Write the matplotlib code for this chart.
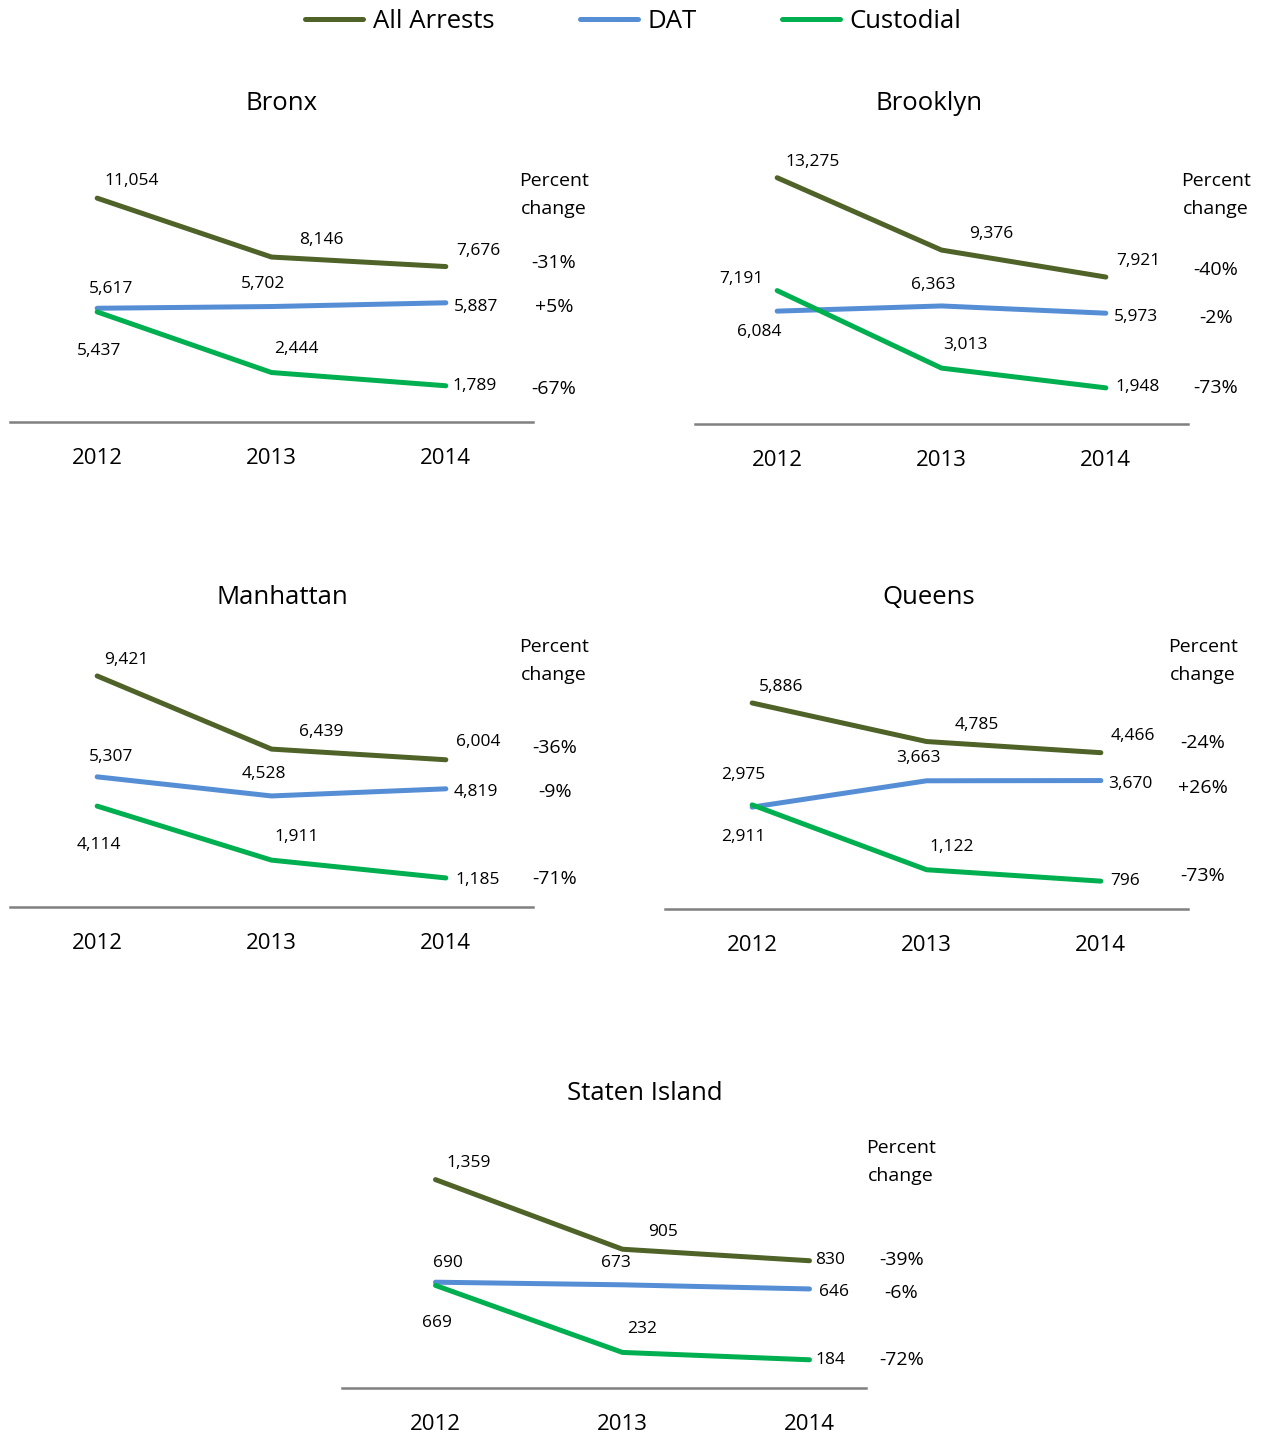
import matplotlib.pyplot as plt

plt.rcParams['font.family'] = ['Open Sans', 'DejaVu Sans']

years = ['2012', '2013', '2014']
boroughs = ['Bronx', 'Brooklyn', 'Manhattan', 'Queens', 'Staten Island']

all_arrests = [[11054, 8146, 7676],
               [13275, 9376, 7921],
               [9421, 6439, 6004],
               [5886, 4785, 4466],
               [1359, 905, 830]]
dat = [[5617, 5702, 5887],
       [6084, 6363, 5973],
       [5307, 4528, 4819],
       [2911, 3663, 3670],
       [690, 673, 646]]
custodial = [[5437, 2444, 1789],
             [7191, 3013, 1948],
             [4114, 1911, 1185],
             [2975, 1122, 796],
             [669, 232, 184]]
pct_change = [['-31%', '+5%', '-67%'],
              ['-40%', '-2%', '-73%'],
              ['-36%', '-9%', '-71%'],
              ['-24%', '+26%', '-73%'],
              ['-39%', '-6%', '-72%']]

series_names = ['All Arrests', 'DAT', 'Custodial']
colors = ['#4F6228', '#558ED5', '#00B050']

W, H = 1267, 1434

# layout in pixels: left, right, bottom, top of plot area, y max, where the base line stops
boxes = [(10, 533, 422, 179, 12000, 2.5),
         (695, 1188, 424, 155, 14500, 2.5),
         (10, 533, 907, 649.5, 10500, 2.5),
         (665, 1188, 909, 681.5, 6500, 2.5),
         (342, 903, 1388, 1158, 1500, 2.3)]
titles_xy = [(282, 103), (929, 103), (282, 598), (929, 598), (645, 1093)]
header_xy = [(554, 195), (1216, 195), (554, 661), (1203, 661), (901, 1162)]
pct_dx = [21, 28, 22, 15, 36]
pct_dy = [(4, -4, -3), (7, -5, 0), (12, -3, -1), (10, -7, 5), (1, -4, 0)]

# value label offsets (dx, dy) in pixels, per panel -> series -> year
offsets = [
    [[(35, 17), (50, 17), (33, 16)], [(14, 19), (-8, 23), (30, -4)], [(2, -39), (25, 24), (29, 0)]],
    [[(35, 16), (50, 16), (33, 16)], [(-18, -21), (-8, 21), (30, -4)], [(-36, 12), (24, 23), (32, 1)]],
    [[(29, 16), (50, 17), (32, 18)], [(14, 20), (-8, 22), (30, -3)], [(2, -39), (25, 23), (32, -2)]],
    [[(29, 16), (50, 17), (32, 17)], [(-9, -30), (-8, 23), (30, -3)], [(-9, 30), (25, 23), (24, 0)]],
    [[(33, 17), (41, 17), (21, 1)], [(12, 19), (-7, 22), (24, -3)], [(1, -38), (20, 23), (21, 0)]],
]

fig = plt.figure(figsize=(W / 100, H / 100), dpi=100)

x = list(range(len(years)))
handles = []
for i, name in enumerate(boroughs):
    left, right, bottom, top, ymax, line_end = boxes[i]
    ax = fig.add_axes([left / W, 1 - bottom / H, (right - left) / W, (bottom - top) / H])
    ax.set_xlim(-0.5, 2.5)
    ax.set_ylim(0, ymax)
    ax.patch.set_alpha(0)
    for s in ['top', 'right', 'left']:
        ax.spines[s].set_visible(False)
    ax.spines['bottom'].set_color('#808080')
    ax.spines['bottom'].set_linewidth(1.8)
    ax.spines['bottom'].set_bounds(-0.5, line_end)
    ax.set_yticks([])
    ax.set_xticks(x)
    ax.set_xticklabels(years, fontsize=16)
    ax.tick_params(axis='x', length=0, pad=19)

    data = [all_arrests[i], dat[i], custodial[i]]
    for k, vals in enumerate(data):
        ln, = ax.plot(x, vals, color=colors[k], lw=3.6, solid_capstyle='round',
                      solid_joinstyle='round', label=series_names[k], clip_on=False)
        if i == 0:
            handles.append(ln)
        for j, v in enumerate(vals):
            dx, dy = offsets[i][k][j]
            ax.annotate(f'{v:,}', (j, v), xytext=(dx, dy), textcoords='offset pixels',
                        ha='center', va='center', fontsize=12.5, annotation_clip=False)
        # percent change sits to the right of the base line, level with the 2014 value
        ax.annotate(pct_change[i][k], (line_end, vals[-1]),
                    xytext=(pct_dx[i], pct_dy[i][k]), textcoords='offset pixels',
                    ha='center', va='center', fontsize=14, annotation_clip=False)

    fig.text(titles_xy[i][0] / W, 1 - titles_xy[i][1] / H, name,
             ha='center', va='center', fontsize=18.5)
    fig.text(header_xy[i][0] / W, 1 - header_xy[i][1] / H, 'Percent\nchange',
             ha='center', va='center', fontsize=14, linespacing=1.75)

fig.legend(handles=handles, loc='upper center', bbox_to_anchor=(0.5, 0.9937), ncol=3,
           frameon=False, fontsize=18.5, handlelength=2.26, handletextpad=0.39,
           columnspacing=3.3, borderaxespad=0.0, borderpad=0.0)

fig.savefig('out.png', dpi=100)
